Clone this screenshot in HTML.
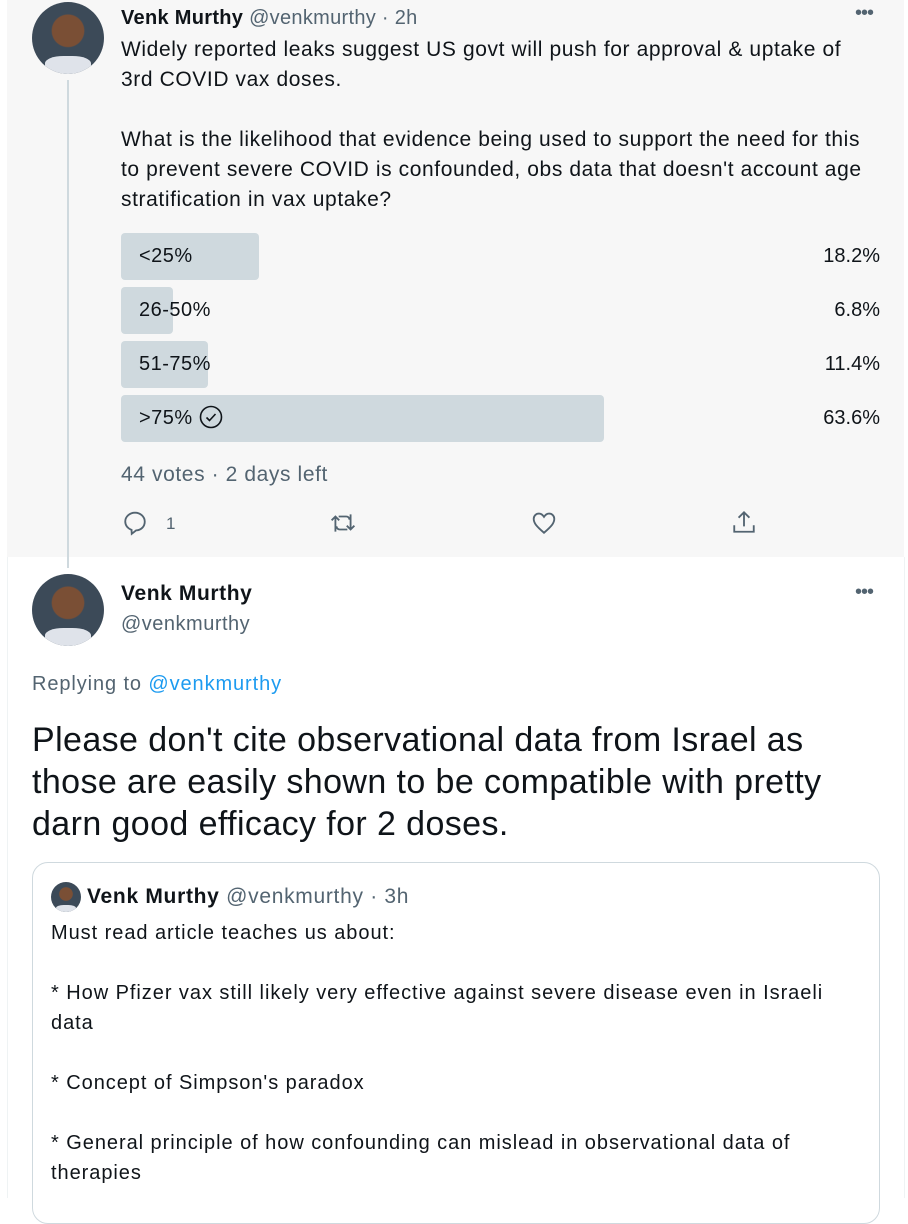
<!DOCTYPE html><html><head><style>
body{margin:0;width:908px;height:1198px;background:#fff;position:relative;overflow:hidden;font-family:"Liberation Sans",sans-serif;color:#0f1419}
.a{position:absolute;white-space:nowrap}
.av{position:absolute;border-radius:50%;background:radial-gradient(circle at 50% 40%,#7a4f35 0 28%,#3c4a58 30% 100%);overflow:hidden}
.av:after{content:"";position:absolute;left:18%;right:18%;bottom:0;height:25%;background:#dfe3ea;border-radius:40% 40% 0 0}
.bar{position:absolute;left:121px;height:47px;background:#cfd9de;border-radius:4px}
.pl{position:absolute;left:139px;font-size:20px;line-height:47px;letter-spacing:0.5px}
.pr{position:absolute;right:28px;font-size:20px;line-height:47px}
.g{color:#536471}
</style></head><body>
<div class="a" style="left:7px;top:0;width:897px;height:557px;background:#f7f7f7"></div>
<div class="a" style="left:7px;top:557px;width:1px;height:641px;background:#eff3f4"></div>
<div class="a" style="left:904px;top:557px;width:1px;height:641px;background:#eff3f4"></div>
<div class="a" style="left:67px;top:80px;width:2px;height:488px;background:#cfd9de"></div>
<div class="av" style="left:32px;top:2px;width:72px;height:72px"></div>
<div class="a" style="left:121px;top:5px;font-size:20px;line-height:26px;letter-spacing:0.3px"><b>Venk Murthy</b> <span class="g">@venkmurthy · 2h</span></div>
<div class="a g" style="left:855px;top:2px;font-size:20px;letter-spacing:-1px">•••</div>
<div class="a" style="left:121px;top:35px;font-size:21px;letter-spacing:0.6px;line-height:30px;white-space:nowrap">Widely reported leaks suggest US govt will push for approval &amp; uptake of<br>3rd COVID vax doses.<br><br>What is the likelihood that evidence being used to support the need for this<br>to prevent severe COVID is confounded, obs data that doesn't account age<br>stratification in vax uptake?</div>
<div class="bar" style="top:233px;width:138px"></div><div class="pl" style="top:233px">&lt;25%</div><div class="pr" style="top:233px">18.2%</div>
<div class="bar" style="top:287px;width:52px"></div><div class="pl" style="top:287px">26-50%</div><div class="pr" style="top:287px">6.8%</div>
<div class="bar" style="top:341px;width:87px"></div><div class="pl" style="top:341px">51-75%</div><div class="pr" style="top:341px">11.4%</div>
<div class="bar" style="top:395px;width:483px"></div><div class="pl" style="top:395px">&gt;75% <svg width="24" height="24" viewBox="0 0 24 24" style="vertical-align:-5px"><circle cx="12" cy="12" r="10.5" fill="none" stroke="#0f1419" stroke-width="1.6"/><path d="M7.5 12.5l3 3 6-6.5" fill="none" stroke="#0f1419" stroke-width="1.6"/></svg></div><div class="pr" style="top:395px">63.6%</div>
<div class="a g" style="left:121px;top:463px;font-size:21px;letter-spacing:0.6px">44 votes · 2 days left</div>
<svg class="a" style="left:122px;top:510px" width="26" height="26" viewBox="0 0 24 24"><path d="M12 2.5c-5 0-9 3.6-9 8.2 0 3.5 2.4 6.4 5.8 7.6l.2 3.7 4-3.2c4.9-.2 8-3.7 8-8.1 0-4.6-4-8.2-9-8.2z" fill="none" stroke="#536471" stroke-width="1.7"/></svg>
<div class="a g" style="left:166px;top:514px;font-size:17px">1</div>
<svg class="a" style="left:330px;top:510px" width="26" height="26" viewBox="0 0 24 24" fill="none" stroke="#536471" stroke-width="1.7"><path d="M5 20V6M1.5 9.5L5 6l3.5 3.5M8 6h7a3 3 0 013 3M19 4v14M15.5 14.5L19 18l3.5-3.5M16 18H9a3 3 0 01-3-3"/></svg>
<svg class="a" style="left:531px;top:510px" width="26" height="26" viewBox="0 0 24 24"><path d="M12 21C5 15 2.5 12 2.5 8.2 2.5 5.3 4.7 3.3 7.3 3.3c2 0 3.5 1.2 4.7 3 1.2-1.8 2.7-3 4.7-3 2.6 0 4.8 2 4.8 4.9C21.5 12 19 15 12 21z" fill="none" stroke="#536471" stroke-width="1.7"/></svg>
<svg class="a" style="left:731px;top:509px" width="26" height="26" viewBox="0 0 24 24" fill="none" stroke="#536471" stroke-width="1.7"><path d="M12 3v13M7 8l5-5 5 5M3 15v6h18v-6"/></svg>
<div class="av" style="left:32px;top:574px;width:72px;height:72px"></div>
<div class="a" style="left:121px;top:582px;font-size:21px;letter-spacing:0.6px"><b>Venk Murthy</b></div>
<div class="a g" style="left:121px;top:613px;font-size:20px;letter-spacing:0.5px">@venkmurthy</div>
<div class="a g" style="left:855px;top:581px;font-size:20px;letter-spacing:-1px">•••</div>
<div class="a g" style="left:32px;top:673px;font-size:20px;letter-spacing:0.9px">Replying to <span style="color:#1d9bf0">@venkmurthy</span></div>
<div class="a" style="left:32px;top:719px;font-size:34px;letter-spacing:0.4px;line-height:42px">Please don't cite observational data from Israel as<br>those are easily shown to be compatible with pretty<br>darn good efficacy for 2 doses.</div>
<div class="a" style="left:32px;top:862px;width:846px;height:360px;border:1px solid #cfd9de;border-radius:16px"></div>
<div class="av" style="left:51px;top:882px;width:30px;height:30px"></div>
<div class="a" style="left:87px;top:885px;font-size:21px;letter-spacing:0.7px"><b>Venk Murthy</b> <span class="g">@venkmurthy · 3h</span></div>
<div class="a" style="left:51px;top:918px;font-size:20px;letter-spacing:0.95px;line-height:30px">Must read article teaches us about:<br><br>* How Pfizer vax still likely very effective against severe disease even in Israeli<br>data<br><br>* Concept of Simpson's paradox<br><br>* General principle of how confounding can mislead in observational data of<br>therapies</div>
</body></html>
